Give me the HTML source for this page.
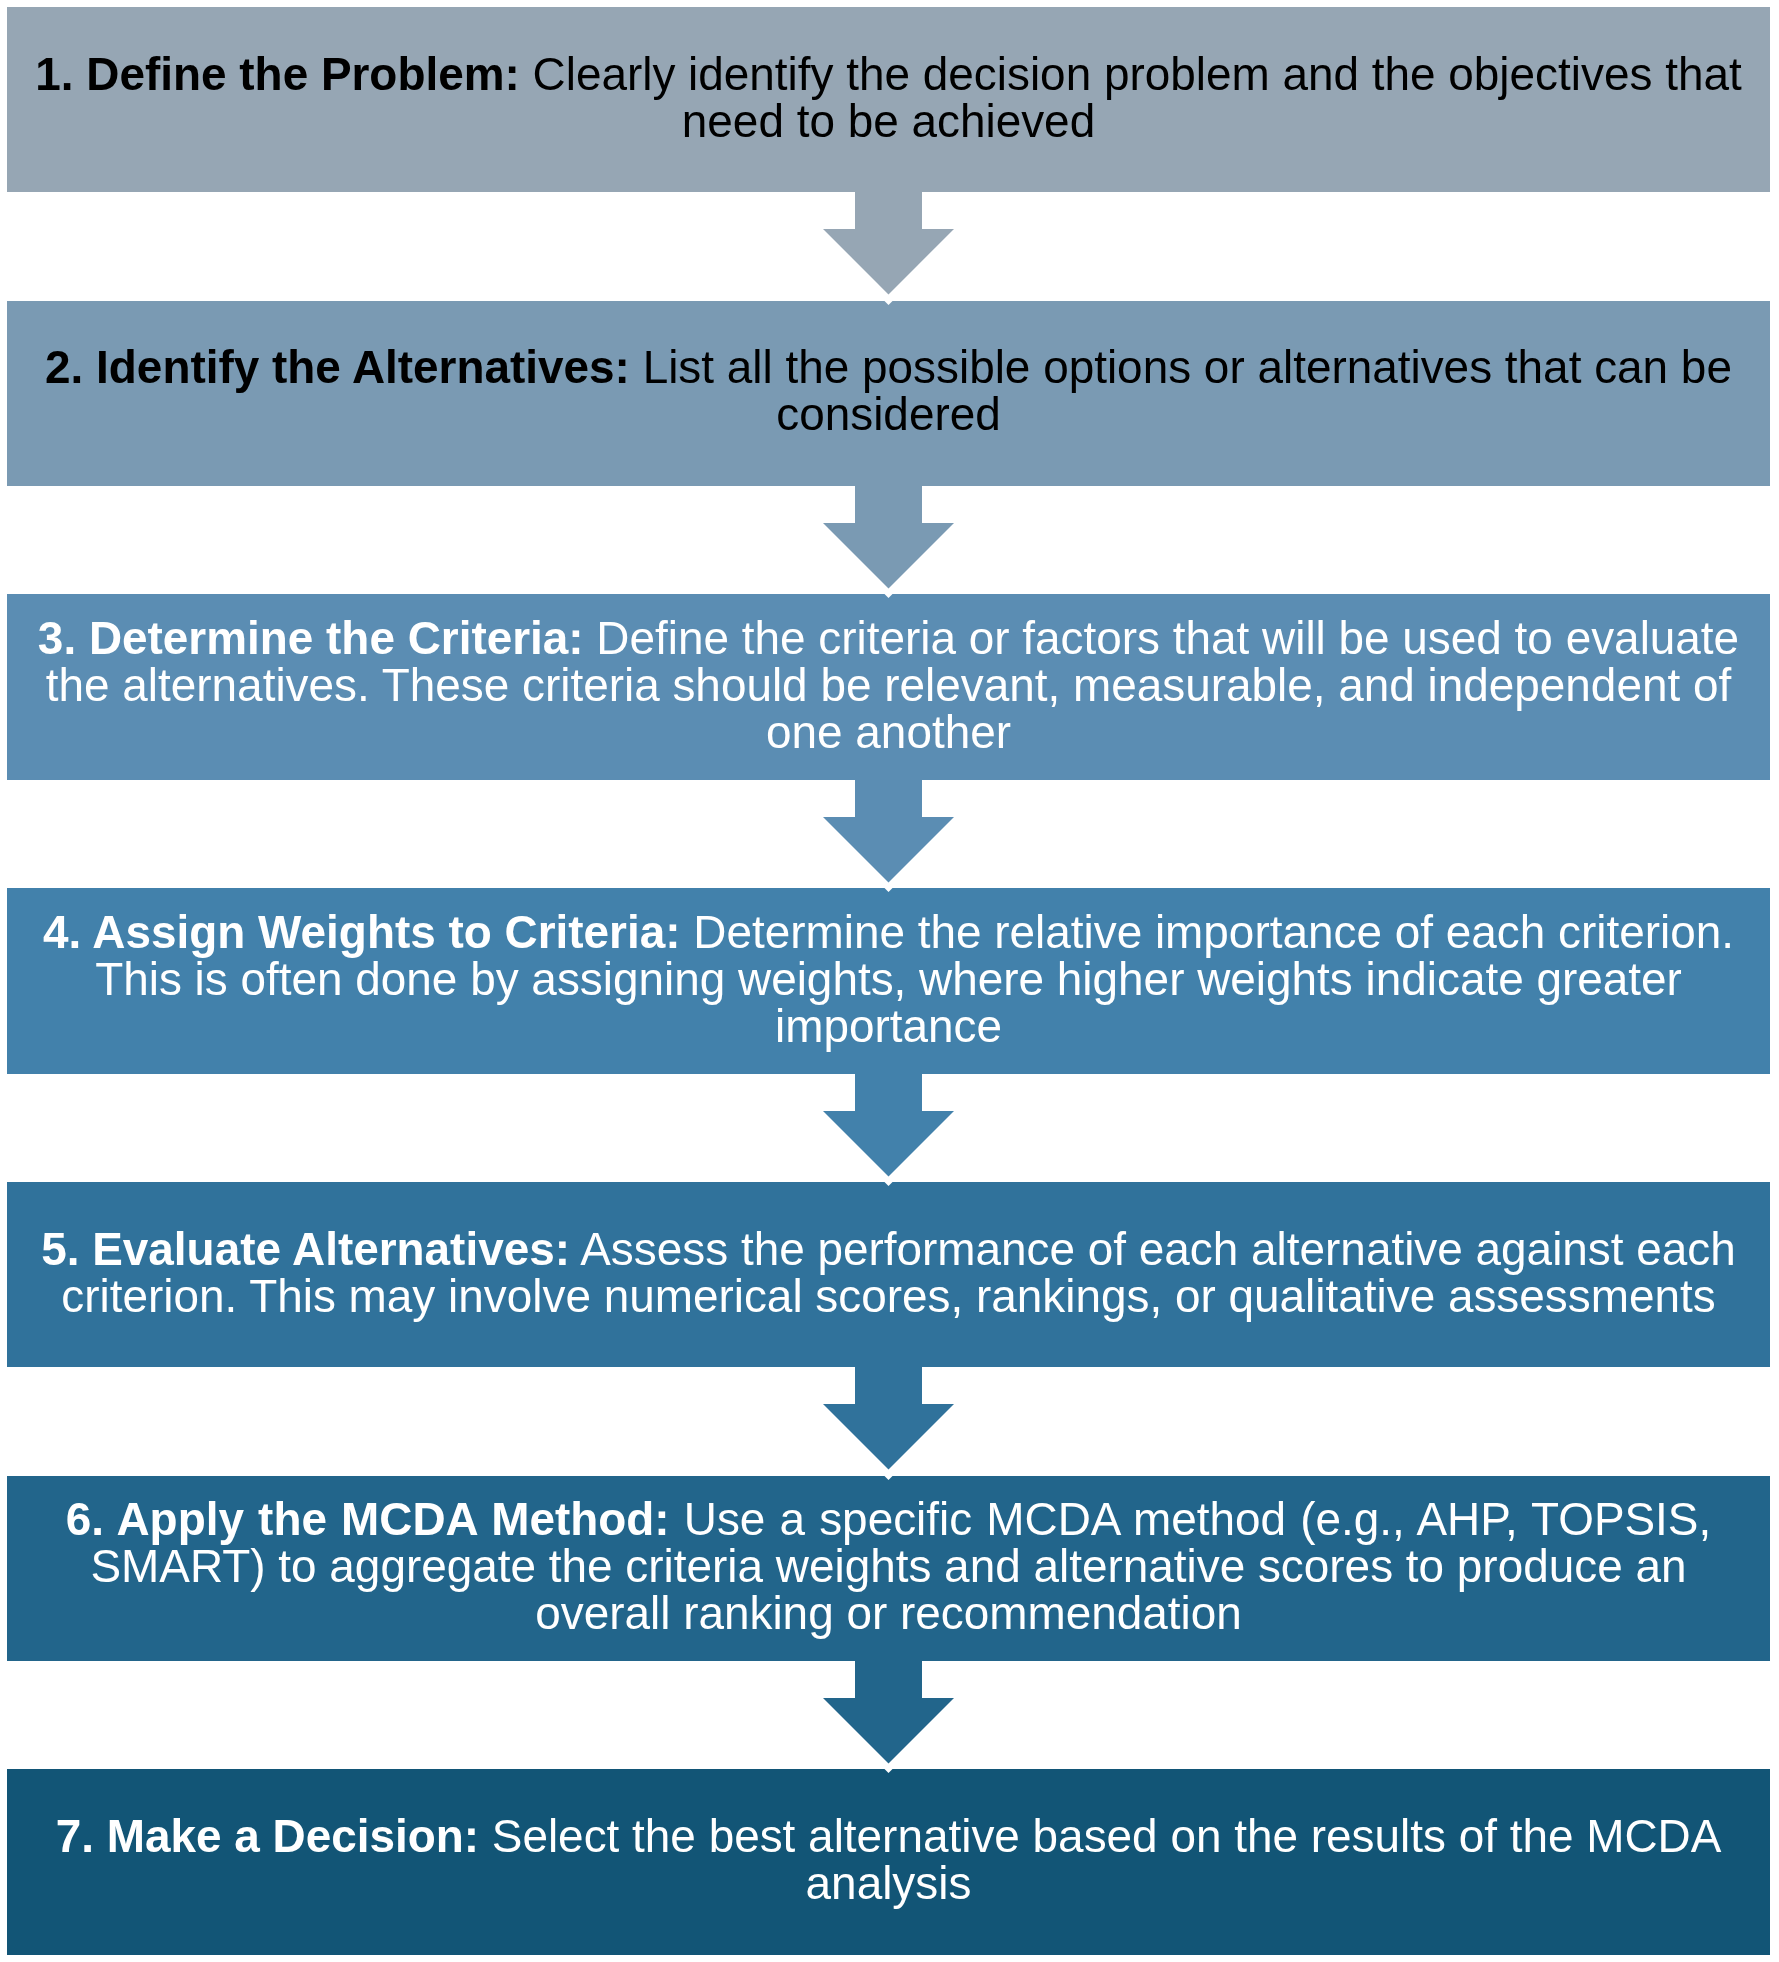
<!DOCTYPE html>
<html><head><meta charset="utf-8"><style>
html,body{margin:0;padding:0;background:#fff;width:1779px;height:1962px;overflow:hidden;position:relative}
.t{will-change:transform;position:absolute;left:7px;width:1763px;text-align:center;font-family:"Liberation Sans",sans-serif;font-size:45.9px;line-height:47px;white-space:nowrap}
.t b{font-weight:bold}
.t span{display:block}
svg{position:absolute;left:0;top:0}
</style></head><body>

<svg width="1779" height="1962" viewBox="0 0 1779 1962">
<rect x="7" y="7" width="1763" height="185" fill="#96a6b4"/>
<rect x="7" y="301" width="1763" height="185" fill="#7a9ab3"/>
<rect x="7" y="594" width="1763" height="186" fill="#5b8db3"/>
<rect x="7" y="888" width="1763" height="186" fill="#4281ab"/>
<rect x="7" y="1182" width="1763" height="185" fill="#30729b"/>
<rect x="7" y="1476" width="1763" height="185" fill="#22658b"/>
<rect x="7" y="1769" width="1763" height="186" fill="#125576"/>
<polygon points="855,191 922,191 922,229.0 954,229.0 888.5,294.4 823,229.0 855,229.0" fill="#96a6b4"/>
<polygon points="884.0,300.5 893.0,300.5 888.5,305.0" fill="#fff"/>
<polygon points="855,485 922,485 922,523.0 954,523.0 888.5,588.4 823,523.0 855,523.0" fill="#7a9ab3"/>
<polygon points="884.0,593.5 893.0,593.5 888.5,598.0" fill="#fff"/>
<polygon points="855,779 922,779 922,817.0 954,817.0 888.5,882.4 823,817.0 855,817.0" fill="#5b8db3"/>
<polygon points="884.0,887.5 893.0,887.5 888.5,892.0" fill="#fff"/>
<polygon points="855,1073 922,1073 922,1111.0 954,1111.0 888.5,1176.4 823,1111.0 855,1111.0" fill="#4281ab"/>
<polygon points="884.0,1181.5 893.0,1181.5 888.5,1186.0" fill="#fff"/>
<polygon points="855,1366 922,1366 922,1404.0 954,1404.0 888.5,1469.4 823,1404.0 855,1404.0" fill="#30729b"/>
<polygon points="884.0,1475.5 893.0,1475.5 888.5,1480.0" fill="#fff"/>
<polygon points="855,1660 922,1660 922,1698.0 954,1698.0 888.5,1763.4 823,1698.0 855,1698.0" fill="#22658b"/>
<polygon points="884.0,1768.5 893.0,1768.5 888.5,1773.0" fill="#fff"/>
</svg>
<div class="t" style="top:50.65px;color:#000"><span><b>1. Define the Problem:</b> Clearly identify the decision problem and the objectives that</span><span>need to be achieved</span></div>
<div class="t" style="top:343.95px;color:#000"><span><b>2. Identify the Alternatives:</b> List all the possible options or alternatives that can be</span><span>considered</span></div>
<div class="t" style="top:614.75px;color:#fff"><span><b>3. Determine the Criteria:</b> Define the criteria or factors that will be used to evaluate</span><span>the alternatives. These criteria should be relevant, measurable, and independent of</span><span>one another</span></div>
<div class="t" style="top:908.55px;color:#fff"><span><b>4. Assign Weights to Criteria:</b> Determine the relative importance of each criterion.</span><span>This is often done by assigning weights, where higher weights indicate greater</span><span>importance</span></div>
<div class="t" style="top:1225.55px;color:#fff"><span><b>5. Evaluate Alternatives:</b> Assess the performance of each alternative against each</span><span>criterion. This may involve numerical scores, rankings, or qualitative assessments</span></div>
<div class="t" style="top:1495.65px;color:#fff"><span style="word-spacing:1.4px"><b>6. Apply the MCDA Method:</b> Use a specific MCDA method (e.g., AHP, TOPSIS,</span><span>SMART) to aggregate the criteria weights and alternative scores to produce an</span><span>overall ranking or recommendation</span></div>
<div class="t" style="top:1813.45px;color:#fff"><span><b>7. Make a Decision:</b> Select the best alternative based on the results of the MCDA</span><span>analysis</span></div>
</body></html>
